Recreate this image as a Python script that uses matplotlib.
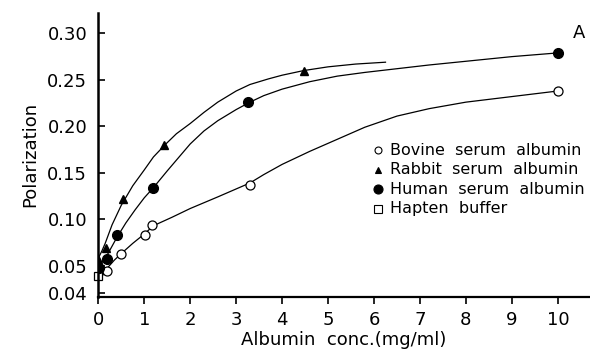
import numpy as np
import matplotlib
matplotlib.use('Agg')
import matplotlib.pyplot as plt

# measured points
bsa_x = [0.19, 0.50, 1.01, 1.17, 3.31, 10.0]
bsa_y = [0.048, 0.063, 0.083, 0.094, 0.137, 0.238]
rsa_x = [0.0, 0.17, 0.54, 1.44, 4.47]
rsa_y = [0.057, 0.069, 0.122, 0.180, 0.260]
hsa_x = [0.02, 0.19, 0.41, 1.19, 3.26, 10.0]
hsa_y = [0.049, 0.057, 0.083, 0.134, 0.226, 0.279]
hap_x = [0.0]
hap_y = [0.046]

# hand-drawn curves
bsa_cx = [0.0, 0.1, 0.19, 0.35, 0.5, 0.75, 1.0, 1.2, 1.6, 2.0, 2.6, 3.3, 3.6, 4.0,
          4.6, 5.2, 5.8, 6.5, 7.2, 8.0, 9.0, 10.0]
bsa_cy = [0.045, 0.0465, 0.049, 0.056, 0.063, 0.074, 0.084, 0.093, 0.102, 0.1115, 0.124,
          0.139, 0.148, 0.159, 0.173, 0.186, 0.199, 0.211, 0.219, 0.226, 0.232, 0.238]
rsa_cx = [0.0, 0.08, 0.15, 0.3, 0.5, 0.75, 1.0, 1.2, 1.45, 1.7, 2.0, 2.3, 2.6, 3.0,
          3.3, 3.7, 4.0, 4.47, 5.0, 5.6, 6.25]
rsa_cy = [0.058, 0.066, 0.074, 0.094, 0.115, 0.136, 0.153, 0.167, 0.180, 0.192, 0.203,
          0.215, 0.226, 0.238, 0.245, 0.251, 0.255, 0.260, 0.264, 0.267, 0.269]
hsa_cx = [0.0, 0.1, 0.2, 0.3, 0.4, 0.6, 0.8, 1.0, 1.2, 1.5, 2.0, 2.3, 2.6, 3.0, 3.3,
          3.6, 4.0, 4.6, 5.2, 5.8, 6.5, 7.2, 8.0, 9.0, 10.0]
hsa_cy = [0.050, 0.055, 0.062, 0.071, 0.080, 0.096, 0.110, 0.123, 0.134, 0.152, 0.181,
          0.195, 0.206, 0.218, 0.226, 0.233, 0.240, 0.248, 0.254, 0.258, 0.262, 0.266,
          0.270, 0.275, 0.279]

legend_labels = ['Bovine  serum  albumin', 'Rabbit  serum  albumin',
                 'Human  serum  albumin', 'Hapten  buffer']
ytick_vals = [0.04, 0.05, 0.10, 0.15, 0.20, 0.25, 0.30]
ytick_labels = ['0.04', '0.05', '0.10', '0.15', '0.20', '0.25', '0.30']
xtick_vals = [0, 1, 2, 3, 4, 5, 6, 7, 8, 9, 10]


# broken-looking y axis: stretch below 0.05
def fwd(y):
    y = np.asarray(y, dtype=float)
    return np.where(y >= 0.05, y, 0.05 - (0.05 - y) * 2.9)


def inv(t):
    t = np.asarray(t, dtype=float)
    return np.where(t >= 0.05, t, 0.05 - (0.05 - t) / 2.9)


plt.rcParams['font.family'] = ['DejaVu Sans']
fig = plt.figure(figsize=(5.9, 3.6), dpi=100)
ax = fig.add_axes([0.1666, 0.176, 0.8334, 0.788])

ax.set_yscale('function', functions=(fwd, inv))
ax.set_xlim(0, 10.7)
ax.set_ylim(0.0385, 0.322)

for cx, cy in [(bsa_cx, bsa_cy), (rsa_cx, rsa_cy), (hsa_cx, hsa_cy)]:
    ax.plot(cx, cy, color='black', lw=0.9, zorder=2, solid_joinstyle='round')

ax.plot(bsa_x, bsa_y, 'o', ms=6.5, mfc='white', mec='black', mew=0.9, ls='none', zorder=3)
ax.plot(rsa_x, rsa_y, '^', ms=5.5, mfc='black', mec='black', ls='none', zorder=3)
ax.plot(hsa_x, hsa_y, 'o', ms=7, mfc='black', mec='black', ls='none', zorder=4)
ax.plot(hap_x, hap_y, 's', ms=6, mfc='white', mec='black', mew=0.9, ls='none', zorder=2,
        clip_on=False)

# legend drawn by hand
lx, ly0, dy = 6.09, 0.174, 0.021
markers = [('o', 'white', 5), ('^', 'black', 5), ('o', 'black', 6.5), ('s', 'white', 5.5)]
for i, ((m, fc, ms), lab) in enumerate(zip(markers, legend_labels)):
    yy = ly0 - i * dy
    ax.plot([lx], [yy], m, ms=ms, mfc=fc, mec='black', mew=0.8)
    ax.text(lx + 0.26, yy, lab, fontsize=11.5, va='center', ha='left')

ax.text(10.47, 0.30, 'A', fontsize=13, va='center', ha='center')

ax.spines['top'].set_visible(False)
ax.spines['right'].set_visible(False)
ax.spines['left'].set_linewidth(1.8)
ax.spines['bottom'].set_linewidth(1.6)

ax.set_yticks(ytick_vals)
ax.set_yticklabels(ytick_labels)
ax.set_xticks(xtick_vals)
ax.set_xticklabels([str(v) for v in xtick_vals])
ax.minorticks_off()
ax.tick_params(axis='y', direction='in', length=5, width=1.2, labelsize=13, pad=8)
ax.tick_params(axis='x', direction='out', length=5, width=1.2, labelsize=13, pad=5)

ax.set_xlabel('Albumin  conc.(mg/ml)', fontsize=13, labelpad=2)
ax.set_ylabel('Polarization', fontsize=13, labelpad=6)

fig.savefig('out.png', dpi=100, facecolor='white')
